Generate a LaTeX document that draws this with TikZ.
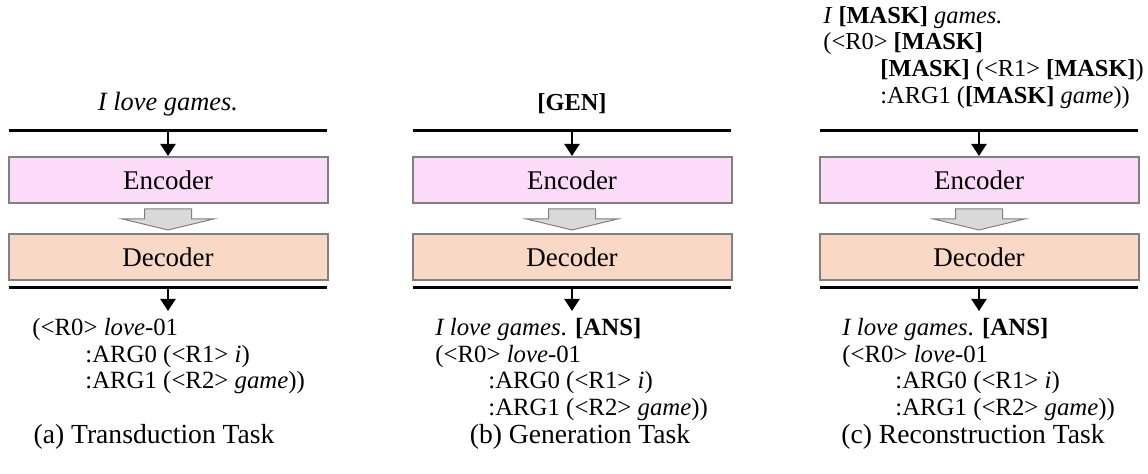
\documentclass[tikz,border=0pt]{standalone}
\usepackage{fontspec}
\setmainfont{Liberation Serif}
\usetikzlibrary{arrows.meta}

\definecolor{encpink}{RGB}{251,219,248}
\definecolor{decpeach}{RGB}{249,217,197}
\definecolor{boxgray}{RGB}{128,128,128}
\definecolor{flowgray}{RGB}{217,217,217}

\tikzset{
  block/.style={draw=boxgray, line width=1pt, minimum width=159.5pt, minimum height=23pt, inner sep=0pt,
    font=\fontsize{13.5}{14}\selectfont},
  bar/.style={line width=1.5pt},
  feed/.style={line width=1pt, -{Triangle[width=7.5pt,length=6pt]}},
  flowarrow/.style={draw=boxgray, fill=flowgray, line width=0.5pt},
  seq/.style={align=left, anchor=north west, inner sep=0pt},
  caption/.style={font=\fontsize{13.8}{14}\selectfont},
}

\begin{document}
\begin{tikzpicture}[x=0.5pt, y=-0.5pt, font=\fontsize{12.4}{13.3}\selectfont]
    \useasboundingbox (0,0) rectangle (1148,474);

    % Encoder-decoder stack, one per task
    \foreach \t/\x in {a/168, b/572, c/979} {
        % input bar
        \draw[bar] (\x-159,131) -- (\x+159,131);
        \coordinate (in\t) at (\x,131);

        \node[block, fill=encpink] (enc\t) at (\x,180) {Encoder};
        \node[block, fill=decpeach] (dec\t) at (\x,257.5) {Decoder};

        % output bar
        \draw[bar] (\x-159,288) -- (\x+159,288);
        \coordinate (out\t) at (\x,288);
        \coordinate (tip\t) at (\x,311);

        \draw[feed] (in\t) -- (enc\t.north);
        \draw[feed] (out\t) -- (tip\t);

        % block arrow between encoder and decoder
        \draw[flowarrow] (enc\t.south) ++(-23.5,5) -- ++(47,0) -- ++(0,10) -- ++(22,0)
            -- ++(-45.5,11) -- ++(-45.5,-11) -- ++(22,0) -- cycle;
    }

    % Inputs
    \node[font=\fontsize{13.2}{14}\selectfont] (srca) at (168,104) {\textit{I love games.}};
    \node[font=\fontsize{12.2}{13}\selectfont] (srcb) at (572,104) {\textbf{[GEN]}};
    \node[seq, font=\fontsize{12.2}{13.3}\selectfont] (srcc) at (823,6) {\textit{I} \textbf{[MASK]} \textit{games.}\\
        (<R0> \textbf{[MASK]}\\
        \hspace*{28.5pt}\textbf{[MASK]} (<R1> \textbf{[MASK]})\\
        \hspace*{28.5pt}:ARG1 (\textbf{[MASK]} \textit{game}))};

    % Outputs
    \node[seq] (tgta) at (32,318) {(<R0> \textit{love}-01\\
        \hspace*{26.5pt}:ARG0 (<R1> \textit{i})\\
        \hspace*{26.5pt}:ARG1 (<R2> \textit{game}))};
    \node[seq] (tgtb) at (435,318) {\textit{I love games}. \textbf{[ANS]}\\
        (<R0> \textit{love}-01\\
        \hspace*{26.5pt}:ARG0 (<R1> \textit{i})\\
        \hspace*{26.5pt}:ARG1 (<R2> \textit{game}))};
    \node[seq] (tgtc) at (842,318) {\textit{I love games}. \textbf{[ANS]}\\
        (<R0> \textit{love}-01\\
        \hspace*{26.5pt}:ARG0 (<R1> \textit{i})\\
        \hspace*{26.5pt}:ARG1 (<R2> \textit{game}))};

    % Captions
    \node[caption] (capa) at (154,437) {(a) Transduction Task};
    \node[caption] (capb) at (580,437) {(b) Generation Task};
    \node[caption] (capc) at (973,437) {(c) Reconstruction Task};
\end{tikzpicture}
\end{document}
